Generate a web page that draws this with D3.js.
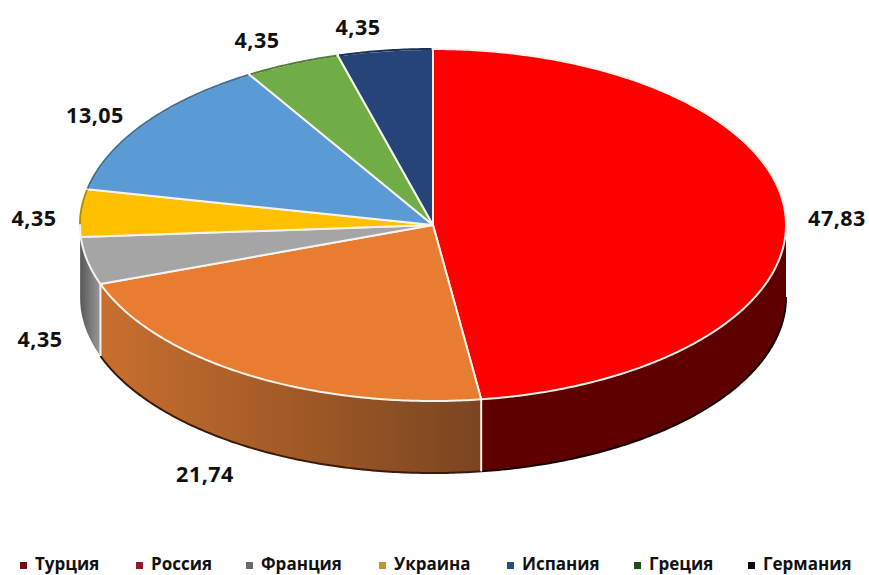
<!DOCTYPE html>
<html><head><meta charset="utf-8">
<script src="https://cdn.jsdelivr.net/npm/d3@7"></script>
<style>html,body{margin:0;background:#fff}svg{display:block}text{font-family:"Open Sans",sans-serif;font-weight:700;fill:#111}</style>
</head><body><svg id="c" width="869" height="575"></svg>
<script>
const categories = ["Турция","Россия","Франция","Украина","Испания","Греция","Германия"];
const pieValues = [47.83,21.74,4.35,4.35,13.05,4.35,4.35];
const pieLabels = ["47,83","21,74","4,35","4,35","13,05","4,35","4,35"];
const topColors = ["#ff0000","#e87c30","#a5a5a5","#ffc000","#5b9bd5","#70ad47","#264478"];
const legendColors = ["#6b0f10","#8e1c2c","#6a6a6a","#c4942c","#1f4e8c","#1e4d1e","#0b0b14"];
const sideStops = [["#5e0000","#5e0000"],["#c96f2e","#7a4520"],["#5a5a5a","#9a9a9a"],["#5a5a5a","#5a5a5a"],["#3a6a95","#3a6a95"],["#4a7030","#4a7030"],["#1a2d50","#1a2d50"]];
const labelPos = [[837,217],[205,473],[40,338],[34,217],[95,114],[257,39],[358,26]];
const legendX = [35,151,261,394,522,649,763];

const cx=433, cy=225, rx=353, ry=176, depth=72;
const svg=d3.select("#c");
const X=d3.scaleLinear().domain([-1,1]).range([cx-rx,cx+rx]);
const Y=d3.scaleLinear().domain([-1,1]).range([cy-ry,cy+ry]);
const arcs=d3.pie().sort(null).value(d=>d)(pieValues);
const pts=(a0,a1)=>{const n=Math.max(2,Math.ceil((a1-a0)/0.01));return d3.range(n+1).map(i=>a0+(a1-a0)*i/n);};
const line=d3.line().x(a=>X(Math.sin(a))).y(a=>Y(-Math.cos(a)));
const defs=svg.append("defs");
const P=Math.PI;
const sides=svg.append("g");
arcs.forEach((d,i)=>{
  const a0=Math.max(d.startAngle,P/2), a1=Math.min(d.endAngle,3*P/2);
  if(a1<=a0) return;
  const id="g"+i;
  const g=defs.append("linearGradient").attr("id",id).attr("gradientUnits","userSpaceOnUse")
    .attr("x1",X(Math.sin(a1))).attr("x2",X(Math.sin(a0))).attr("y1",0).attr("y2",0);
  g.append("stop").attr("offset",0).attr("stop-color",sideStops[i][0]);
  g.append("stop").attr("offset",1).attr("stop-color",sideStops[i][1]);
  const top=pts(a0,a1), bot=top.slice().reverse();
  const path=line(top)+"L"+bot.map(a=>[X(Math.sin(a)),Y(-Math.cos(a))+depth].join(",")).join("L")+"Z";
  sides.append("path").attr("d",path).attr("fill",`url(#${id})`);
  if(i<2) sides.append("path").attr("d","M"+bot.map(a=>[X(Math.sin(a)),Y(-Math.cos(a))+depth].join(",")).join("L"))
    .attr("fill","none").attr("stroke",i===0?"#120000":"#3a1a08").attr("stroke-width",2);
  if(d.startAngle>=P/2 && d.startAngle<=3*P/2 && i<3){
    const x=X(Math.sin(d.startAngle)), y=Y(-Math.cos(d.startAngle));
    sides.append("line").attr("x1",x).attr("x2",x).attr("y1",y).attr("y2",y+depth).attr("stroke","#f4f0ea").attr("stroke-width",2);
  }
});
svg.append("g").selectAll("path").data(arcs).join("path")
  .attr("d",d=>line(pts(d.startAngle,d.endAngle))+`L${cx},${cy}Z`)
  .attr("fill",(d,i)=>topColors[i])
  .attr("stroke","#f6f3ec").attr("stroke-width",2).attr("stroke-linejoin","round");
// darker bevel along the back rim of the top face
svg.append("g").selectAll("path").data(arcs.filter(d=>d.endAngle>3*P/2)).join("path")
  .attr("d",d=>line(pts(Math.max(d.startAngle,3*P/2)+0.004,d.endAngle-0.004)))
  .attr("fill","none").attr("stroke",d=>d3.color(topColors[d.index]).darker(0.9)).attr("stroke-width",2);
svg.append("g").selectAll("text").data(pieLabels).join("text")
  .attr("x",(d,i)=>labelPos[i][0]).attr("y",(d,i)=>labelPos[i][1])
  .attr("text-anchor","middle").attr("dominant-baseline","central")
  .attr("font-size",21.5).attr("letter-spacing",0.5).text(d=>d);
const lg=svg.append("g").selectAll("g").data(categories).join("g")
  .attr("transform",(d,i)=>`translate(${legendX[i]},570)`);
lg.append("rect").attr("x",-15).attr("y",-8).attr("width",7).attr("height",7).attr("fill",(d,i)=>legendColors[i]);
lg.append("text").attr("font-size",17).text(d=>d);
</script></body></html>
